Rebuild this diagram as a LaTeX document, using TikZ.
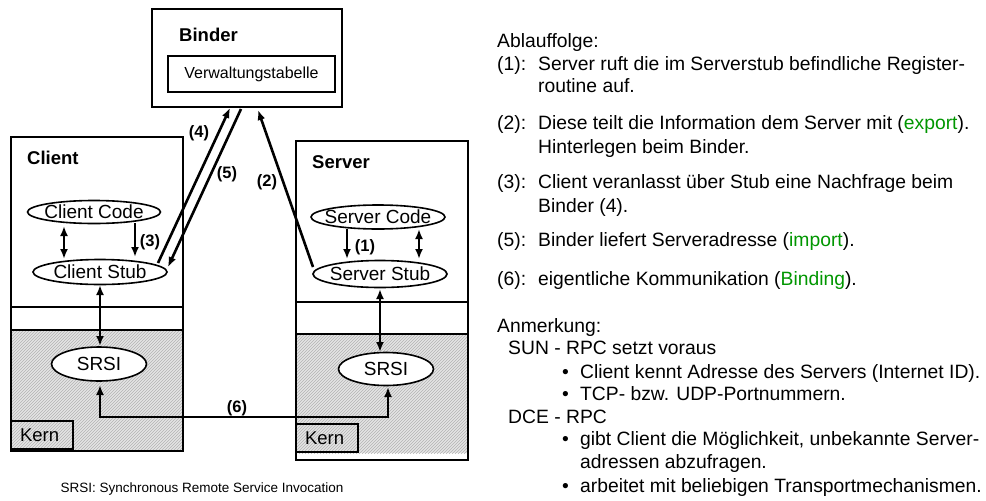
\documentclass[tikz,border=0pt]{standalone}
\usepackage{fontspec}
\setmainfont{Liberation Sans}
\usetikzlibrary{arrows.meta,patterns}
\definecolor{grn}{RGB}{0,150,0}
\tikzset{
 box/.style={draw, line width=2pt, inner sep=0},
 etext/.style={font=\fontsize{19}{22}\selectfont, inner sep=0},
 eline/.style={line width=1.6pt},
 arr/.style={line width=2.6pt, -{Latex[length=10pt,width=8pt]}},
 darr/.style={line width=2.6pt, {Latex[length=10pt,width=8pt]}-{Latex[length=10pt,width=8pt]}},
 num/.style={font=\bfseries\fontsize{16.5}{19}\selectfont, inner sep=0},
 ttl/.style={font=\bfseries\fontsize{18.5}{22}\selectfont, inner sep=0, anchor=base west},
 rt/.style={font=\fontsize{19.3}{23}\selectfont, inner sep=0, anchor=base west},
 hatch/.style={pattern=north east lines, pattern color=gray!60},
 kern/.style={box, minimum width=62, minimum height=28, anchor=south west, font=\fontsize{18.5}{22}\selectfont, align=left, text width=44}
}
\begin{document}
\begin{tikzpicture}[x=1pt,y=1pt]
\useasboundingbox (0,0) rectangle (986,-501);
% gray kernel areas
\fill[gray!20] (10,-330) rectangle (182,-450);
\fill[hatch] (10,-330) rectangle (182,-450);
\fill[gray!20] (295,-334) rectangle (467,-453);
\fill[hatch] (295,-334) rectangle (467,-453);
% boxes
\node[box, anchor=north west, minimum width=172, minimum height=314] (client) at (10,-136) {};
\node[box, anchor=north west, minimum width=172, minimum height=319] (server) at (295,-140) {};
\draw[line width=2pt] (client.west |- 0,-307) -- (client.east |- 0,-307);
\draw[line width=2pt] (client.west |- 0,-330) -- (client.east |- 0,-330);
\draw[line width=2pt] (server.west |- 0,-302) -- (server.east |- 0,-302);
\draw[line width=2pt] (server.west |- 0,-334) -- (server.east |- 0,-334);
\node[kern] (kernC) at (10,-450) {Kern};
\node[kern] (kernS) at (295,-453) {Kern};
\node[box, minimum width=190, minimum height=98] (binder) at (247,-58) {};
\node[ttl] (bt) at (179,-41) {Binder};
\node[box, minimum width=167, minimum height=36, font=\fontsize{16}{19}\selectfont] (vt) at (251.5,-74) {Verwaltungstabelle};
\node[ttl] (ct) at (27,-164) {Client};
\node[ttl] (st) at (312,-168) {Server};
% ellipses
\node[etext] (cc) at (94,-212) {Client Code};
\draw[eline] (cc.center) ellipse [x radius=66.5, y radius=11.5];
\node[etext] (cs) at (100,-272) {Client Stub};
\draw[eline] (cs.center) ellipse [x radius=67, y radius=12.5];
\node[etext] (sc) at (378,-217) {Server Code};
\draw[eline] (sc.center) ellipse [x radius=67, y radius=12];
\node[etext] (ss) at (380,-274) {Server Stub};
\draw[eline] (ss.center) ellipse [x radius=67, y radius=13.5];
\draw[eline, fill=white] (99,-364) ellipse [x radius=47.5, y radius=17];
\node[etext] (srsiC) at (99,-364) {SRSI};
\draw[eline, fill=white] (386,-369) ellipse [x radius=47.5, y radius=16.5];
\node[etext] (srsiS) at (386,-369) {SRSI};
% arrows
\draw[darr] ([xshift=-30pt,yshift=-14pt]cc.center) -- ([xshift=-36pt,yshift=13pt]cs.center);
\draw[arr] ([xshift=41pt,yshift=-11pt]cc.center) -- ([xshift=35pt,yshift=15pt]cs.center);
\node[num] at (150,-242) {(3)};
\draw[darr] ([yshift=-13pt]cs.center) -- ([xshift=1pt,yshift=18pt]srsiC.center);
\draw[darr] ([yshift=-15pt]ss.center) -- ([xshift=-6pt,yshift=17pt]srsiS.center);
\draw[arr] ([xshift=-31pt,yshift=-12pt]sc.center) -- ([xshift=-33pt,yshift=15pt]ss.center);
\node[num] at (365,-247) {(1)};
\draw[darr] ([xshift=41pt,yshift=-12pt]sc.center) -- ([xshift=39pt,yshift=15pt]ss.center);
\draw[arr] ([xshift=58pt,yshift=9pt]cs.center) -- ([xshift=-17pt,yshift=-50pt]binder.center);
\draw[arr] ([xshift=-6pt,yshift=-51pt]binder.center) -- ([xshift=68pt,yshift=5pt]cs.center);
\draw[arr] ([xshift=-67pt,yshift=7pt]ss.center) -- ([xshift=11pt,yshift=-52pt]binder.center);
\node[num] at (199,-133) {(4)};
\node[num] at (227,-174) {(5)};
\node[num] at (267,-182) {(2)};
\coordinate (c6) at (240,-417);
\draw[darr] ([xshift=1pt,yshift=-21pt]srsiC.center) |- (c6) -| ([xshift=2pt,yshift=-18pt]srsiS.center);
\node[num] at (237,-408) {(6)};
\node[font=\fontsize{13.5}{16}\selectfont, inner sep=0] (cap) at (202,-489) {SRSI: Synchronous Remote Service Invocation};
% right text
\node[rt] at (497,-47) {Ablauffolge:};
\node[rt] at (497,-70) {(1):};
\node[rt] at (538,-70) {Server ruft die im Serverstub befindliche Register-};
\node[rt] at (538,-92) {routine auf.};
\node[rt] at (497,-129) {(2):};
\node[rt] at (538,-129) {Diese teilt die Information dem Server mit (\textcolor{grn}{export}).};
\node[rt] at (538,-153) {Hinterlegen beim Binder.};
\node[rt] at (497,-188) {(3):};
\node[rt] at (538,-188) {Client veranlasst über Stub eine Nachfrage beim};
\node[rt] at (538,-212) {Binder (4).};
\node[rt] at (497,-246) {(5):};
\node[rt] at (538,-246) {Binder liefert Serveradresse (\textcolor{grn}{import}).};
\node[rt] at (497,-285) {(6):};
\node[rt] at (538,-285) {eigentliche Kommunikation (\textcolor{grn}{Binding}).};
\node[rt] at (497,-332) {Anmerkung:};
\node[rt] at (508,-354) {SUN - RPC setzt voraus};
\node[rt] at (562,-378) {•};
\node[rt] at (580,-378) {Client kennt Adresse des Servers (Internet ID).};
\node[rt] at (562,-400) {•};
\node[rt] at (580,-400) {TCP- bzw. UDP-Portnummern.};
\node[rt] at (508,-423) {DCE - RPC};
\node[rt] at (562,-445) {•};
\node[rt] at (580,-445) {gibt Client die Möglichkeit, unbekannte Server-};
\node[rt] at (580,-468) {adressen abzufragen.};
\node[rt] at (562,-492) {•};
\node[rt] at (580,-492) {arbeitet mit beliebigen Transportmechanismen.};
\end{tikzpicture}
\end{document}
